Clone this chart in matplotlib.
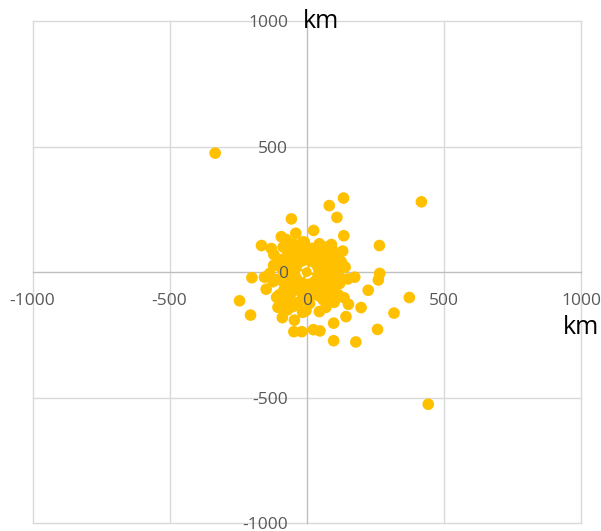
import matplotlib
matplotlib.use("Agg")
import matplotlib.pyplot as plt

plt.rcParams['font.family'] = ['Open Sans', 'DejaVu Sans']

x_km = [-334, 418, 443, 82, 134, 110, -56, 25, -40, 135, -93, -165, 265, 131, -200, 266, 261, 224, 374,
        -245, -205, 198, 318, 258, 98, 179, -47, -18, 24, 48, 98, 143, 152, 136, 97, 46, -3, -45, -89, -89,
        -148, -154, -121, -129, 175, 150, -50, -123,
        -86, -50, -15, 46, 71, 94, 126, -9, 20, -30, -70, 50, 100, -100, -60, -20, 10, 40, 80, 110, -90,
        -50, -20, 30, 60, 90, 120, -110, -80, -40, 10, 50, 80, -60, -20, 20, 60, -100, -30, 10, 100, -70,
        30, -40, 0, 60, -120, -10, 15, 70, 115, -55, 140, -135, 35, -75, 65, -15, 90, -105, 45, -30, 120,
        -65, -35, -5, 25, 55, 85, -80, -45, -10, 20, 45, 75, 105, -95, -60, -25, 5, 35, 65, 95, -75, -40,
        -5, 30, 55, 85, -55, -20, 15, 40, 70, -85, 5, -70, 100, -110]
y_km = [474, 280, -526, 265, 295, 218, 212, 166, 155, 145, 141, 106, 106, 84, -22, -5, -31, -72, -101,
        -114, -171, -141, -163, -228, -273, -278, -237, -237, -229, -234, -203, -177, -128, -102, -71, -157, -153, -191, -181, -117,
        -68, -20, 27, 94, -20, -27, -137, -38,
        100, 113, 120, 113, 100, 87, 41, 120, 95, 85, 70, 70, 60, 50, 40, 50, 40, 30, 25, 10, 10,
        0, -10, -10, -5, -30, -45, -30, -50, -40, -45, -50, -80, -90, -80, -90, -110, -90, -120, -125, -120, -150,
        20, 20, 80, 40, 70, 10, -20, -140, -90, -20, 20, -5, 55, 130, -60, -160, 110, -140, -95, -60, -20,
        95, 100, 60, 65, 95, 45, 40, 55, 30, 70, 50, 60, 35, 25, 15, -5, 5, 10, -20, 0, -15, -25,
        -35, -30, -25, -60, -65, -55, -70, -65, -95, -75, -100, -110, -75, -100]

origin_x = [0]
origin_y = [0]

ticks = [-1000, -500, 0, 500, 1000]
tick_labels = ['-1000', '-500', '0', '500', '1000']
axis_unit = 'km'

fig = plt.figure(figsize=(6.01, 5.31), dpi=100)
ax = fig.add_axes([32.5 / 601, 7.7 / 531, 548.5 / 601, 502.3 / 531])
ax.set_xlim(-1000, 1000)
ax.set_ylim(-1000, 1000)

for t in ticks:
    if t != 0:
        ax.axhline(t, color='#d9d9d9', lw=1.0, zorder=0.4, clip_on=False)
        ax.axvline(t, color='#d9d9d9', lw=1.0, zorder=0.4, clip_on=False)

for side in ['top', 'right']:
    ax.spines[side].set_visible(False)
for side in ['left', 'bottom']:
    ax.spines[side].set_position('zero')
    ax.spines[side].set_color('#bfbfbf')
    ax.spines[side].set_linewidth(1.0)
    ax.spines[side].set_zorder(0.5)

ax.set_xticks(ticks)
ax.set_yticks(ticks)
ax.set_xticklabels(tick_labels)
ax.set_yticklabels(tick_labels)
ax.tick_params(axis='both', length=0, labelsize=12.5, colors='#595959')
ax.tick_params(axis='x', pad=14.7)
ax.tick_params(axis='y', pad=13.4)
ax.xaxis.set_zorder(3)
ax.yaxis.set_zorder(3)

ax.scatter(x_km, y_km, s=70, color='#ffc000', edgecolors='none', zorder=1.2)
ax.scatter(origin_x, origin_y, s=70, facecolors='none', edgecolors='white',
           linewidths=1.2, linestyle='--', zorder=1.3)

ax.text(-15, 1000, axis_unit, ha='left', va='center', fontsize=18, color='black', zorder=4)
ax.text(1000, -222, axis_unit, ha='center', va='center', fontsize=18, color='black', zorder=4)

fig.savefig('out.png', dpi=100)
